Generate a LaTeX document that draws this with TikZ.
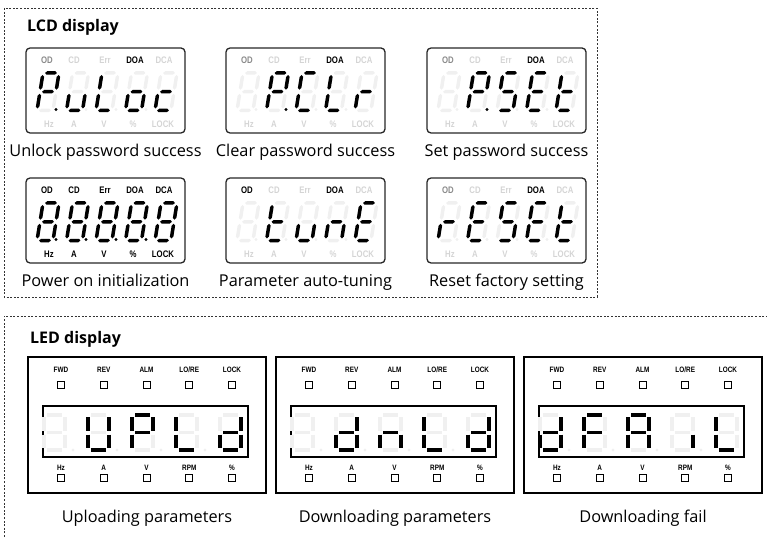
\documentclass[tikz,border=0pt]{standalone}
\usepackage{fontspec}
\setmainfont{Open Sans}
\newfontfamily\tagfont[FakeStretch=0.82]{Liberation Sans}

\definecolor{segoff}{HTML}{F0F0F0}
\definecolor{tagoff}{HTML}{D4D4D4}
\definecolor{tagmid}{HTML}{8A8A8A}
\definecolor{groupgray}{HTML}{333333}

\tikzset{
  groupline/.style={draw=groupgray, line width=0.9pt, dash pattern=on 2pt off 1.6pt},
  grouptitle/.style={font=\bfseries\fontsize{16}{19}\selectfont, inner sep=0pt, anchor=base west},
  caption/.style={font=\fontsize{16.3}{19}\selectfont, inner sep=0pt, anchor=base},
  lcdframe/.style={draw=black!85, line width=1.3pt, rounded corners=4pt},
  lcdtag/.style={font=\tagfont\bfseries\fontsize{9.5}{10}\selectfont, inner sep=0pt},
  ledframe/.style={draw=black, line width=2pt},
  ledwindow/.style={draw=black, line width=1.1pt},
  ledtag/.style={font=\tagfont\bfseries\fontsize{7.8}{8}\selectfont, inner sep=0pt},
  ledlamp/.style={draw=black, line width=0.9pt, minimum size=7pt, inner sep=0pt},
  ledbar/.style={line width=3.2pt},
}

% lcd segments: pointed bars, origin at the bottom left of a digit
\def\segt{1.75}
\newcommand{\hseg}[4]{\fill[#4] (#1,#3) -- (#1+\segt,#3-\segt) -- (#2-\segt,#3-\segt) -- (#2,#3) -- (#2-\segt,#3+\segt) -- (#1+\segt,#3+\segt) -- cycle;}
\newcommand{\vseg}[4]{\fill[#4] (#1,#2) -- (#1+\segt,#2+\segt) -- (#1+\segt,#3-\segt) -- (#1,#3) -- (#1-\segt,#3-\segt) -- (#1-\segt,#2+\segt) -- cycle;}
\newcommand{\lcdsega}[1]{\hseg{2.1}{13.9}{-37.5}{#1}}
\newcommand{\lcdsegg}[1]{\hseg{2.1}{13.9}{-18.75}{#1}}
\newcommand{\lcdsegd}[1]{\hseg{2.1}{13.9}{0}{#1}}
\newcommand{\lcdsegf}[1]{\vseg{0}{-35.4}{-20.85}{#1}}
\newcommand{\lcdsegb}[1]{\vseg{16}{-35.4}{-20.85}{#1}}
\newcommand{\lcdsege}[1]{\vseg{0}{-16.65}{-2.1}{#1}}
\newcommand{\lcdsegc}[1]{\vseg{16}{-16.65}{-2.1}{#1}}
\newcommand{\lcdsegx}[1]{}
\newcommand{\lcddigit}[3]{%
  \begin{scope}[shift={(#1,#2)}, xslant=0.16]
    \foreach \s in {a,b,c,d,e,f,g} {\csname lcdseg\s\endcsname{segoff}}
    \foreach \s in {#3} {\csname lcdseg\s\endcsname{black}}
  \end{scope}}
\newcommand{\lcddot}[2]{\fill[#2] (30*#1,61.5) circle (1.7pt);}
\newcommand{\lcdfive}[5]{%
  \lcddigit{11}{62.5}{#1}\lcddigit{40.5}{62.5}{#2}\lcddigit{70}{62.5}{#3}%
  \lcddigit{99.5}{62.5}{#4}\lcddigit{129}{62.5}{#5}%
  \foreach \k in {1,...,4} {\lcddot{\k}{segoff}}}
\newcommand{\lcdframe}[2]{%
  \draw[lcdframe] (0,0) rectangle (159,85);
  \node[caption] (#1cap) at (79.5,108.5) {#2};}
\newcommand{\lcdtags}[7]{%
  \node[lcdtag, text=#2] (#1od) at (21,12) {OD};
  \node[lcdtag, text=#3] (#1cd) at (48,12) {CD};
  \node[lcdtag, text=#4] (#1err) at (79,12) {Err};
  \node[lcdtag, text=#5] (#1doa) at (109,12) {DOA};
  \node[lcdtag, text=#6] (#1dca) at (138,12) {DCA};
  \node[lcdtag, text=#7] (#1hz) at (23,76) {Hz};
  \node[lcdtag, text=#7] (#1a) at (48,76) {A};
  \node[lcdtag, text=#7] (#1v) at (78,76) {V};
  \node[lcdtag, text=#7] (#1pc) at (107,76) {\%};
  \node[lcdtag, text=#7] (#1lock) at (137,76) {LOCK};}

% led segments: straight bars, origin at the top left of a digit
\newcommand{\ledsega}[1]{\draw[ledbar,#1] (3,0) -- (18,0);}
\newcommand{\ledsegg}[1]{\draw[ledbar,#1] (3,17.5) -- (18,17.5);}
\newcommand{\ledsegd}[1]{\draw[ledbar,#1] (3,35) -- (18,35);}
\newcommand{\ledsegf}[1]{\draw[ledbar,#1] (0,2) -- (0,15.5);}
\newcommand{\ledsegb}[1]{\draw[ledbar,#1] (21,2) -- (21,15.5);}
\newcommand{\ledsege}[1]{\draw[ledbar,#1] (0,19.5) -- (0,33);}
\newcommand{\ledsegc}[1]{\draw[ledbar,#1] (21,19.5) -- (21,33);}
\newcommand{\ledsegx}[1]{}
\newcommand{\leddigit}[3]{%
  \begin{scope}[shift={(#1,#2)}]
    \foreach \s in {a,b,c,d,e,f,g} {\csname ledseg\s\endcsname{segoff}}
    \foreach \s in {#3} {\csname ledseg\s\endcsname{black}}
  \end{scope}}
\newcommand{\ledpanel}[8]{%
  \begin{scope}[shift={(#2,357)}]
    \draw[ledframe] (0,0) rectangle (238,136);
    \draw[ledwindow] (15,49) rectangle (220,100);
    \foreach \t [count=\i from 0] in {FWD,REV,ALM,LO/RE,LOCK} {
      \node[ledtag] (#1top\i) at (33+42.75*\i,13) {\t};
      \node[ledlamp] (#1toplamp\i) at (33+42.75*\i,28) {};
    }
    \foreach \t [count=\i from 0] in {Hz,A,V,RPM,\%} {
      \node[ledtag] (#1bot\i) at (33+42.75*\i,111) {\t};
      \node[ledlamp] (#1botlamp\i) at (33+42.75*\i,121) {};
    }
    \leddigit{16}{58}{#3}\leddigit{60}{58}{#4}\leddigit{104}{58}{#5}%
    \leddigit{148}{58}{#6}\leddigit{192}{58}{#7}%
    \foreach \k in {1,...,4} {\fill[segoff] (1+44*\k,93) circle (1.7pt);}
    \node[caption] (#1cap) at (119,165) {#8};
  \end{scope}}

\begin{document}
\begin{tikzpicture}[x=1pt, y=-1pt]
\useasboundingbox (0,0) rectangle (767,537);

% LCD group
\draw[groupline] (4,8) rectangle (597,297);
\node[grouptitle] (lcdtitle) at (27,32) {LCD display};

\begin{scope}[shift={(26,48)}]
  \lcdframe{unlock}{Unlock password success}
  \lcdtags{unlock}{tagmid}{tagoff}{tagoff}{black}{tagoff}{tagoff}
  \lcdfive{a,b,e,f,g}{c,d,e}{d,e,f}{c,d,e,g}{d,e,g}
  \lcddot{1}{black}
\end{scope}
\begin{scope}[shift={(226,48)}]
  \lcdframe{clear}{Clear password success}
  \lcdtags{clear}{tagmid}{tagoff}{tagoff}{black}{tagoff}{tagoff}
  \lcdfive{x}{a,b,e,f,g}{a,d,e,f}{d,e,f}{e,g}
  \lcddot{2}{black}
\end{scope}
\begin{scope}[shift={(427,48)}]
  \lcdframe{setpw}{Set password success}
  \lcdtags{setpw}{tagmid}{tagoff}{tagoff}{black}{tagoff}{tagoff}
  \lcdfive{x}{a,b,e,f,g}{a,c,d,f,g}{a,d,e,f,g}{d,e,f,g}
  \lcddot{2}{black}
\end{scope}

\begin{scope}[shift={(26,178)}]
  \lcdframe{power}{Power on initialization}
  \lcdtags{power}{black}{black}{black}{black}{black}{black}
  \lcdfive{a,b,c,d,e,f,g}{a,b,c,d,e,f,g}{a,b,c,d,e,f,g}{a,b,c,d,e,f,g}{a,b,c,d,e,f,g}
  \foreach \k in {1,...,4} {\lcddot{\k}{black}}
\end{scope}
\begin{scope}[shift={(226,178)}]
  \lcdframe{tune}{Parameter auto-tuning}
  \lcdtags{tune}{black}{tagoff}{tagoff}{black}{tagoff}{tagoff}
  \lcdfive{x}{d,e,f,g}{c,d,e}{c,e,g}{a,d,e,f,g}
\end{scope}
\begin{scope}[shift={(427,178)}]
  \lcdframe{reset}{Reset factory setting}
  \lcdtags{reset}{tagmid}{tagoff}{tagoff}{black}{tagoff}{tagoff}
  \lcdfive{e,g}{a,d,e,f,g}{a,c,d,f,g}{a,d,e,f,g}{d,e,f,g}
\end{scope}

% LED group
\draw[groupline] (4,537) -- (4,316) -- (767,316);
\node[grouptitle] (ledtitle) at (30,343) {LED display};

\ledpanel{upload}{28}{x}{b,c,d,e,f}{a,b,e,f,g}{d,e,f}{b,c,d,e,g}{Uploading parameters}
\ledpanel{download}{276}{x}{b,c,d,e,g}{c,e,g}{d,e,f}{b,c,d,e,g}{Downloading parameters}
\ledpanel{fail}{524}{b,c,d,e,g}{a,e,f,g}{a,b,c,e,f,g}{c}{d,e,f}{Downloading fail}
\end{tikzpicture}
\end{document}
